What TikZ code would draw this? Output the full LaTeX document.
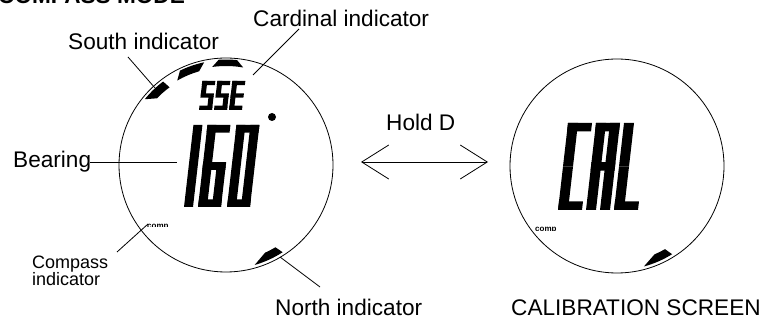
\documentclass[tikz,border=0pt]{standalone}
\usepackage{fontspec}
\setmainfont{Liberation Sans}
\usetikzlibrary{arrows.meta}

% LCD segment helpers
\def\lhseg#1#2#3{\fill ({#1},{#3-\lTh/2}) rectangle ({#2},{#3+\lTh/2});}
\def\lvseg#1#2#3{\fill ({#1-\lT/2},{#2}) rectangle ({#1+\lT/2},{#3});}
\def\lsega{\lhseg{0}{\lW}{\lH-\lTh/2}}
\def\lsegb{\lvseg{\lW-\lT/2}{\lH/2}{\lH}}
\def\lsegc{\lvseg{\lW-\lT/2}{0}{\lH/2}}
\def\lsegd{\lhseg{0}{\lW}{\lTh/2}}
\def\lsege{\lvseg{\lT/2}{0}{\lH/2}}
\def\lsegf{\lvseg{\lT/2}{\lH/2}{\lH}}
\def\lsegg{\lhseg{0}{\lW}{\lH/2}}
% #1 x, #2 y bottom, #3 width, #4 height, #5 thickness, #6 segments
\newcommand{\lcdchar}[6]{%
  \begin{scope}[shift={(#1,#2)}, x=1pt, y=1pt, xslant=0.115]
    \def\lW{#3}\def\lH{#4}\def\lT{#5}\def\lTh{(0.85*#5)}%
    \foreach \s in {#6} {\csname lseg\s\endcsname}
  \end{scope}}
% indicator blade: outer arc #1..#2 at radius #6, inner arc #3..#4 at radius #5
\newcommand{\blade}[6]{%
  \fill (#1:#6) arc[start angle=#1, end angle=#2, radius=#6]
    -- (#4:#5) arc[start angle=#4, end angle=#3, radius=#5] -- cycle;}

\tikzset{
  lbl/.style={font=\fontsize{22.6}{24}\selectfont, anchor=base west, inner sep=0pt},
  smalllbl/.style={font=\fontsize{18}{18}\selectfont, anchor=base west, inner sep=0pt},
  dial/.style={draw, circle, minimum size=214pt, inner sep=0pt, line width=0.8pt},
  leader/.style={line width=0.8pt},
  tiny/.style={font=\bfseries\fontsize{8}{8}\selectfont, anchor=base west, inner sep=0pt},
}

\begin{document}
\begin{tikzpicture}[x=1pt, y=-1pt]
\useasboundingbox (0,0) rectangle (760,331);

% titles and labels
\node[lbl, font=\bfseries\fontsize{22.6}{24}\selectfont] (title) at (-2,4) {COMPASS MODE};
\node[lbl] (card) at (253,27) {Cardinal indicator};
\node[lbl] (south) at (68,50) {South indicator};
\node[lbl] (bear) at (13,168) {Bearing};
\node[smalllbl] (compA) at (32,268) {Compass};
\node[smalllbl] (compB) at (32,285) {indicator};
\node[lbl] (north) at (275,315) {North indicator};
\node[lbl] (hold) at (386,131) {Hold D};
\node[lbl] (calib) at (511,315) {CALIBRATION SCREEN};

% dials
\node[dial] (dialL) at (226,165) {};
\node[dial] (dialR) at (617,166) {};

% indicator blades, left dial
\begin{scope}[shift={(226,165)}, x=1pt, y=1pt]
  \blade{84}{94}{80}{98}{99}{105.5}
  \blade{102}{116}{106}{120}{97.5}{105}
  \blade{127}{141}{126}{136}{96}{104.5}
  \blade{-57}{-74}{-59}{-66}{96}{104}
\end{scope}
% north blade, right dial
\begin{scope}[shift={(617,166)}, x=1pt, y=1pt]
  \blade{-58}{-75}{-60}{-67}{96}{104}
\end{scope}

% tiny clipped text
\begin{scope}
  \clip (145,221) rectangle (178,226);
  \node[tiny] (tinyL) at (147,228) {comp};
\end{scope}
\begin{scope}
  \clip (533,225) rectangle (566,230);
  \node[tiny] (tinyR) at (535,232) {comp};
\end{scope}

% SSE
\lcdchar{199}{110}{13}{29}{5}{a,f,g,c,d}
\lcdchar{214}{110}{13}{29}{5}{a,f,g,c,d}
\lcdchar{229}{110}{13}{29}{5}{a,f,g,e,d}
% 160
\lcdchar{184}{207}{9}{82}{9}{b,c}
\lcdchar{198}{207}{23}{82}{9}{a,f,g,e,d,c}
\lcdchar{227}{207}{23}{82}{9}{a,b,c,d,e,f}
\fill (272,117) circle[radius=4pt];
% CAL
\lcdchar{558}{210}{24}{87}{10}{a,f,e,d}
\lcdchar{586}{210}{24}{87}{10}{a,b,c,e,f,g}
\lcdchar{614}{210}{24}{87}{10}{f,e,d}

% leader lines
\coordinate (cardA) at (299,29);  \coordinate (cardB) at (253,75);
\coordinate (southA) at (128,57); \coordinate (southB) at (155,88);
\coordinate (bearA) at (90,162);  \coordinate (bearB) at (177,162);
\coordinate (compL) at (117,252); \coordinate (compR) at (148,224);
\coordinate (northA) at (280,257); \coordinate (northB) at (320,287);
\draw[leader] (cardA) -- (cardB);
\draw[leader] (southA) -- (southB);
\draw[leader] (bearA) -- (bearB);
\draw[leader] (compL) -- (compR);
\draw[leader] (northA) -- (northB);

% Hold D arrow
\coordinate (arrL) at (361,162);
\coordinate (arrR) at (488,162);
\draw[line width=0.8pt, {Straight Barb[length=27pt,width=34pt]}-{Straight Barb[length=27pt,width=34pt]}] (arrL) -- (arrR);
\end{tikzpicture}
\end{document}
